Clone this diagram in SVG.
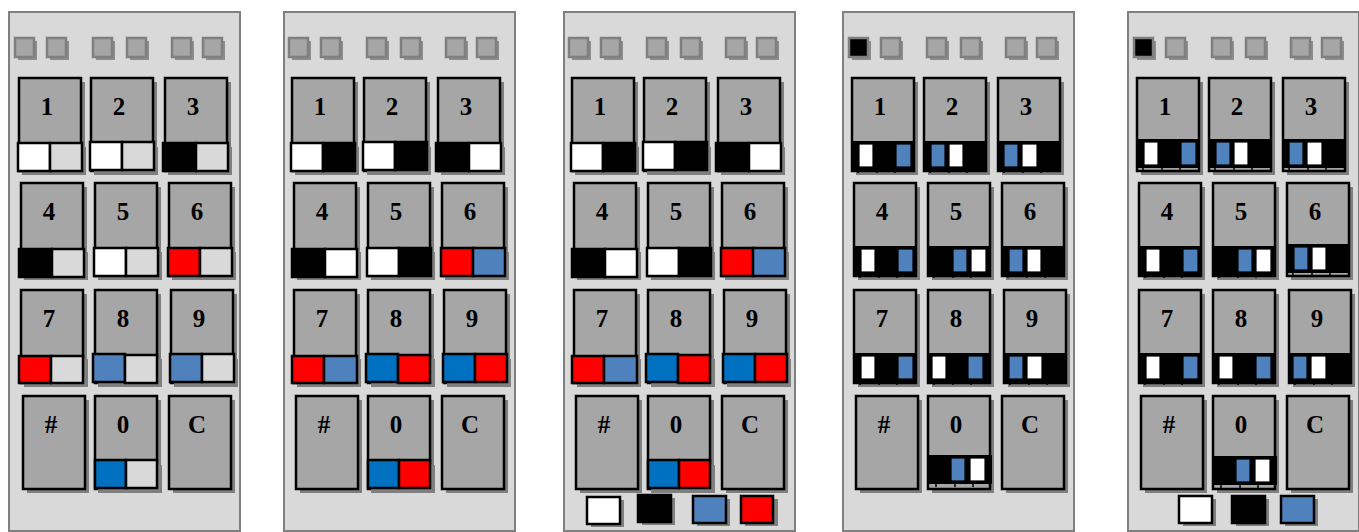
<svg xmlns="http://www.w3.org/2000/svg" xmlns:xlink="http://www.w3.org/1999/xlink" width="1359" height="532" viewBox="0 0 1359 532">
<style>
.panel{fill:#d9d9d9;stroke:#808080;stroke-width:2}
.sh{fill:#7f7f7f}
.lsh{fill:#8c8c8c}
.led{stroke:#7f7f7f;stroke-width:2.5}
.lbl{font-family:"Liberation Serif","Times New Roman",serif;font-weight:bold;font-size:25px;text-anchor:middle;fill:#000}
.c{stroke:#000;stroke-width:2.5}
.c3{stroke:#000;stroke-width:1.2}
.W{fill:#ffffff}.K{fill:#000000}.L{fill:#d9d9d9}.R{fill:#ff0000}.S{fill:#4f81bd}.B{fill:#0070c0}.G{fill:#a6a6a6}
</style>
<defs>
<g id="kb"><rect class="sh" x="4" y="4" width="62" height="93"/><rect x="0" y="0" width="62" height="93" fill="#a6a6a6" stroke="#000" stroke-width="2.5"/></g>
<rect id="b2s" class="sh" x="3" y="69" width="64" height="28"/>
<g id="b3"><rect x="0" y="64" width="61" height="27" fill="#000" stroke="#000" stroke-width="2"/><path d="M25 91v4M43 91v4M6 91v4" stroke="#000" stroke-width="1.5"/></g>
<g id="leds">
<rect class="lsh" x="9" y="41" width="19" height="19"/><rect class="lsh" x="41" y="41" width="19" height="19"/><rect class="lsh" x="87" y="41" width="19" height="19"/><rect class="lsh" x="121" y="41" width="19" height="19"/><rect class="lsh" x="166" y="41" width="19" height="19"/><rect class="lsh" x="197" y="41" width="19" height="19"/>
<rect class="led G" x="38" y="38" width="19" height="19"/><rect class="led G" x="84" y="38" width="19" height="19"/><rect class="led G" x="118" y="38" width="19" height="19"/><rect class="led G" x="163" y="38" width="19" height="19"/><rect class="led G" x="194" y="38" width="19" height="19"/>
</g>
</defs>

<!-- Panel 1 -->
<g id="panel1">
<rect class="panel" x="9" y="12" width="231" height="519"/>
<g transform="translate(9,0)"><use href="#leds"/><rect class="led G" x="6" y="38" width="19" height="19"/></g>
<g id="p1-k1" transform="translate(19,78)"><use href="#kb"/><text class="lbl" x="28" y="37">1</text><use href="#b2s"/><rect class="c W" x="-1" y="65" width="32" height="28"/><rect class="c L" x="31" y="65" width="32" height="28"/></g>
<g id="p1-k2" transform="translate(91,78)"><use href="#kb"/><text class="lbl" x="28" y="37">2</text><use href="#b2s"/><rect class="c W" x="-1" y="64" width="32" height="28"/><rect class="c L" x="31" y="64" width="32" height="28"/></g>
<g id="p1-k3" transform="translate(165,78)"><use href="#kb"/><text class="lbl" x="28" y="37">3</text><use href="#b2s"/><rect class="c K" x="-2" y="65" width="33" height="28"/><rect class="c L" x="31" y="65" width="32" height="28"/></g>
<g id="p1-k4" transform="translate(21,183)"><use href="#kb"/><text class="lbl" x="28" y="37">4</text><use href="#b2s"/><rect class="c K" x="-2" y="66" width="33" height="28"/><rect class="c L" x="31" y="66" width="32" height="28"/></g>
<g id="p1-k5" transform="translate(95,183)"><use href="#kb"/><text class="lbl" x="28" y="37">5</text><use href="#b2s"/><rect class="c W" x="-1" y="65" width="32" height="28"/><rect class="c L" x="31" y="65" width="32" height="28"/></g>
<g id="p1-k6" transform="translate(169,183)"><use href="#kb"/><text class="lbl" x="28" y="37">6</text><use href="#b2s"/><rect class="c R" x="-1" y="65" width="32" height="28"/><rect class="c L" x="31" y="65" width="32" height="28"/></g>
<g id="p1-k7" transform="translate(21,290)"><use href="#kb"/><text class="lbl" x="28" y="37">7</text><use href="#b2s"/><rect class="c R" x="-2" y="66" width="32" height="27"/><rect class="c L" x="30" y="66" width="32" height="27"/></g>
<g id="p1-k8" transform="translate(95,290)"><use href="#kb"/><text class="lbl" x="28" y="37">8</text><use href="#b2s"/><rect class="c S" x="-2" y="64" width="32" height="28"/><rect class="c L" x="30" y="65" width="32" height="28"/></g>
<g id="p1-k9" transform="translate(171,290)"><use href="#kb"/><text class="lbl" x="28" y="37">9</text><use href="#b2s"/><rect class="c S" x="-1" y="64" width="32" height="28"/><rect class="c L" x="31" y="64" width="32" height="28"/></g>
<g id="p1-kh" transform="translate(23,396)"><use href="#kb"/><text class="lbl" x="28" y="37">#</text></g>
<g id="p1-k0" transform="translate(95,396)"><use href="#kb"/><text class="lbl" x="28" y="37">0</text><use href="#b2s"/><rect class="c B" x="0" y="64" width="31" height="28"/><rect class="c L" x="31" y="64" width="31" height="28"/></g>
<g id="p1-kc" transform="translate(169,396)"><use href="#kb"/><text class="lbl" x="28" y="37">C</text></g>
</g>

<!-- Panel 2 -->
<g id="panel2">
<rect class="panel" x="284" y="12" width="231" height="519"/>
<g transform="translate(283,0)"><use href="#leds"/><rect class="led G" x="6" y="38" width="19" height="19"/></g>
<g id="p2-k1" transform="translate(292,78)"><use href="#kb"/><text class="lbl" x="28" y="37">1</text><use href="#b2s"/><rect class="c W" x="-1" y="65" width="32" height="28"/><rect class="c K" x="31" y="65" width="32" height="28"/></g>
<g id="p2-k2" transform="translate(364,78)"><use href="#kb"/><text class="lbl" x="28" y="37">2</text><use href="#b2s"/><rect class="c W" x="-1" y="64" width="32" height="28"/><rect class="c K" x="31" y="64" width="32" height="28"/></g>
<g id="p2-k3" transform="translate(438,78)"><use href="#kb"/><text class="lbl" x="28" y="37">3</text><use href="#b2s"/><rect class="c K" x="-2" y="65" width="33" height="28"/><rect class="c W" x="31" y="65" width="32" height="28"/></g>
<g id="p2-k4" transform="translate(294,183)"><use href="#kb"/><text class="lbl" x="28" y="37">4</text><use href="#b2s"/><rect class="c K" x="-2" y="66" width="33" height="28"/><rect class="c W" x="31" y="66" width="32" height="28"/></g>
<g id="p2-k5" transform="translate(368,183)"><use href="#kb"/><text class="lbl" x="28" y="37">5</text><use href="#b2s"/><rect class="c W" x="-1" y="65" width="32" height="28"/><rect class="c K" x="31" y="65" width="32" height="28"/></g>
<g id="p2-k6" transform="translate(442,183)"><use href="#kb"/><text class="lbl" x="28" y="37">6</text><use href="#b2s"/><rect class="c R" x="-1" y="65" width="32" height="28"/><rect class="c S" x="31" y="65" width="32" height="28"/></g>
<g id="p2-k7" transform="translate(294,290)"><use href="#kb"/><text class="lbl" x="28" y="37">7</text><use href="#b2s"/><rect class="c R" x="-2" y="66" width="32" height="27"/><rect class="c S" x="30" y="66" width="33" height="27"/></g>
<g id="p2-k8" transform="translate(368,290)"><use href="#kb"/><text class="lbl" x="28" y="37">8</text><use href="#b2s"/><rect class="c B" x="-2" y="64" width="32" height="28"/><rect class="c R" x="30" y="65" width="32" height="28"/></g>
<g id="p2-k9" transform="translate(444,290)"><use href="#kb"/><text class="lbl" x="28" y="37">9</text><use href="#b2s"/><rect class="c B" x="-1" y="64" width="32" height="28"/><rect class="c R" x="31" y="64" width="32" height="28"/></g>
<g id="p2-kh" transform="translate(296,396)"><use href="#kb"/><text class="lbl" x="28" y="37">#</text></g>
<g id="p2-k0" transform="translate(368,396)"><use href="#kb"/><text class="lbl" x="28" y="37">0</text><use href="#b2s"/><rect class="c B" x="0" y="64" width="31" height="28"/><rect class="c R" x="31" y="64" width="31" height="28"/></g>
<g id="p2-kc" transform="translate(442,396)"><use href="#kb"/><text class="lbl" x="28" y="37">C</text></g>
</g>

<!-- Panel 3 -->
<g id="panel3">
<rect class="panel" x="564" y="12" width="231" height="519"/>
<g transform="translate(563,0)"><use href="#leds"/><rect class="led G" x="6" y="38" width="19" height="19"/></g>
<g id="p3-k1" transform="translate(572,78)"><use href="#kb"/><text class="lbl" x="28" y="37">1</text><use href="#b2s"/><rect class="c W" x="-1" y="65" width="32" height="28"/><rect class="c K" x="31" y="65" width="32" height="28"/></g>
<g id="p3-k2" transform="translate(644,78)"><use href="#kb"/><text class="lbl" x="28" y="37">2</text><use href="#b2s"/><rect class="c W" x="-1" y="64" width="32" height="28"/><rect class="c K" x="31" y="64" width="32" height="28"/></g>
<g id="p3-k3" transform="translate(718,78)"><use href="#kb"/><text class="lbl" x="28" y="37">3</text><use href="#b2s"/><rect class="c K" x="-2" y="65" width="33" height="28"/><rect class="c W" x="31" y="65" width="32" height="28"/></g>
<g id="p3-k4" transform="translate(574,183)"><use href="#kb"/><text class="lbl" x="28" y="37">4</text><use href="#b2s"/><rect class="c K" x="-2" y="66" width="33" height="28"/><rect class="c W" x="31" y="66" width="32" height="28"/></g>
<g id="p3-k5" transform="translate(648,183)"><use href="#kb"/><text class="lbl" x="28" y="37">5</text><use href="#b2s"/><rect class="c W" x="-1" y="65" width="32" height="28"/><rect class="c K" x="31" y="65" width="32" height="28"/></g>
<g id="p3-k6" transform="translate(722,183)"><use href="#kb"/><text class="lbl" x="28" y="37">6</text><use href="#b2s"/><rect class="c R" x="-1" y="65" width="32" height="28"/><rect class="c S" x="31" y="65" width="32" height="28"/></g>
<g id="p3-k7" transform="translate(574,290)"><use href="#kb"/><text class="lbl" x="28" y="37">7</text><use href="#b2s"/><rect class="c R" x="-2" y="66" width="32" height="27"/><rect class="c S" x="30" y="66" width="33" height="27"/></g>
<g id="p3-k8" transform="translate(648,290)"><use href="#kb"/><text class="lbl" x="28" y="37">8</text><use href="#b2s"/><rect class="c B" x="-2" y="64" width="32" height="28"/><rect class="c R" x="30" y="65" width="32" height="28"/></g>
<g id="p3-k9" transform="translate(724,290)"><use href="#kb"/><text class="lbl" x="28" y="37">9</text><use href="#b2s"/><rect class="c B" x="-1" y="64" width="32" height="28"/><rect class="c R" x="31" y="64" width="32" height="28"/></g>
<g id="p3-kh" transform="translate(576,396)"><use href="#kb"/><text class="lbl" x="28" y="37">#</text></g>
<g id="p3-k0" transform="translate(648,396)"><use href="#kb"/><text class="lbl" x="28" y="37">0</text><use href="#b2s"/><rect class="c B" x="0" y="64" width="31" height="28"/><rect class="c R" x="31" y="64" width="31" height="28"/></g>
<g id="p3-kc" transform="translate(722,396)"><use href="#kb"/><text class="lbl" x="28" y="37">C</text></g>
<g id="p3-legend">
<rect class="sh" x="591" y="500" width="33" height="27"/><rect class="c W" x="587" y="497" width="33" height="27"/>
<rect class="sh" x="642" y="498" width="33" height="27"/><rect class="c K" x="638" y="495" width="33" height="27"/>
<rect class="sh" x="697" y="499" width="33" height="27"/><rect class="c S" x="693" y="496" width="33" height="27"/>
<rect class="sh" x="745" y="499" width="33" height="27"/><rect class="c R" x="741" y="496" width="32" height="27"/>
</g>
</g>

<!-- Panel 4 -->
<g id="panel4">
<rect class="panel" x="843" y="12" width="231" height="519"/>
<g transform="translate(843,0)"><use href="#leds"/><rect class="led K" x="6" y="38" width="19" height="19"/></g>
<g id="p4-k1" transform="translate(852,78)"><use href="#kb"/><text class="lbl" x="28" y="37">1</text><use href="#b3"/><rect class="c3 W" x="7" y="66" width="14" height="23"/><rect class="c3 S" x="44" y="66" width="15" height="23"/></g>
<g id="p4-k2" transform="translate(924,78)"><use href="#kb"/><text class="lbl" x="28" y="37">2</text><use href="#b3"/><rect class="c3 S" x="7" y="66" width="14" height="23"/><rect class="c3 W" x="25" y="66" width="14" height="23"/></g>
<g id="p4-k3" transform="translate(998,78)"><use href="#kb"/><text class="lbl" x="28" y="37">3</text><use href="#b3"/><rect class="c3 S" x="6" y="66" width="14" height="23"/><rect class="c3 W" x="24" y="66" width="15" height="23"/></g>
<g id="p4-k4" transform="translate(854,183)"><use href="#kb"/><text class="lbl" x="28" y="37">4</text><use href="#b3"/><rect class="c3 W" x="7" y="66" width="14" height="23"/><rect class="c3 S" x="44" y="66" width="15" height="23"/></g>
<g id="p4-k5" transform="translate(928,183)"><use href="#kb"/><text class="lbl" x="28" y="37">5</text><use href="#b3"/><rect class="c3 S" x="25" y="66" width="14" height="23"/><rect class="c3 W" x="43" y="66" width="15" height="23"/></g>
<g id="p4-k6" transform="translate(1002,183)"><use href="#kb"/><text class="lbl" x="28" y="37">6</text><use href="#b3"/><rect class="c3 S" x="7" y="66" width="14" height="23"/><rect class="c3 W" x="25" y="66" width="14" height="23"/></g>
<g id="p4-k7" transform="translate(854,290)"><use href="#kb"/><text class="lbl" x="28" y="37">7</text><use href="#b3"/><rect class="c3 W" x="7" y="66" width="14" height="23"/><rect class="c3 S" x="44" y="66" width="15" height="23"/></g>
<g id="p4-k8" transform="translate(928,290)"><use href="#kb"/><text class="lbl" x="28" y="37">8</text><use href="#b3"/><rect class="c3 W" x="4" y="66" width="14" height="23"/><rect class="c3 S" x="40" y="66" width="15" height="23"/></g>
<g id="p4-k9" transform="translate(1004,290)"><use href="#kb"/><text class="lbl" x="28" y="37">9</text><use href="#b3"/><rect class="c3 S" x="5" y="66" width="14" height="23"/><rect class="c3 W" x="23" y="66" width="15" height="23"/></g>
<g id="p4-kh" transform="translate(856,396)"><use href="#kb"/><text class="lbl" x="28" y="37">#</text></g>
<g id="p4-k0" transform="translate(928,396)"><use href="#kb"/><text class="lbl" x="28" y="37">0</text><g transform="translate(2,-4)"><use href="#b3"/><rect class="c3 S" x="21" y="66" width="14" height="23"/><rect class="c3 W" x="40" y="66" width="15" height="23"/></g></g>
<g id="p4-kc" transform="translate(1002,396)"><use href="#kb"/><text class="lbl" x="28" y="37">C</text></g>
</g>

<!-- Panel 5 -->
<g id="panel5">
<rect class="panel" x="1128" y="12" width="231" height="519"/>
<g transform="translate(1128,0)"><use href="#leds"/><rect class="led K" x="6" y="38" width="19" height="19"/></g>
<g id="p5-k1" transform="translate(1137,78)"><use href="#kb"/><text class="lbl" x="28" y="37">1</text><g transform="translate(0,-2)"><use href="#b3"/><rect class="c3 W" x="7" y="66" width="14" height="23"/><rect class="c3 S" x="44" y="66" width="15" height="23"/></g></g>
<g id="p5-k2" transform="translate(1209,78)"><use href="#kb"/><text class="lbl" x="28" y="37">2</text><g transform="translate(0,-2)"><use href="#b3"/><rect class="c3 S" x="7" y="66" width="14" height="23"/><rect class="c3 W" x="25" y="66" width="14" height="23"/></g></g>
<g id="p5-k3" transform="translate(1283,78)"><use href="#kb"/><text class="lbl" x="28" y="37">3</text><g transform="translate(0,-2)"><use href="#b3"/><rect class="c3 S" x="6" y="66" width="14" height="23"/><rect class="c3 W" x="24" y="66" width="15" height="23"/></g></g>
<g id="p5-k4" transform="translate(1139,183)"><use href="#kb"/><text class="lbl" x="28" y="37">4</text><use href="#b3"/><rect class="c3 W" x="7" y="66" width="14" height="23"/><rect class="c3 S" x="44" y="66" width="15" height="23"/></g>
<g id="p5-k5" transform="translate(1213,183)"><use href="#kb"/><text class="lbl" x="28" y="37">5</text><use href="#b3"/><rect class="c3 S" x="25" y="66" width="14" height="23"/><rect class="c3 W" x="43" y="66" width="15" height="23"/></g>
<g id="p5-k6" transform="translate(1287,183)"><use href="#kb"/><text class="lbl" x="28" y="37">6</text><g transform="translate(0,-2)"><use href="#b3"/><rect class="c3 S" x="7" y="66" width="14" height="23"/><rect class="c3 W" x="25" y="66" width="14" height="23"/></g></g>
<g id="p5-k7" transform="translate(1139,290)"><use href="#kb"/><text class="lbl" x="28" y="37">7</text><use href="#b3"/><rect class="c3 W" x="7" y="66" width="14" height="23"/><rect class="c3 S" x="44" y="66" width="15" height="23"/></g>
<g id="p5-k8" transform="translate(1213,290)"><use href="#kb"/><text class="lbl" x="28" y="37">8</text><use href="#b3"/><rect class="c3 W" x="6" y="66" width="14" height="23"/><rect class="c3 S" x="43" y="66" width="15" height="23"/></g>
<g id="p5-k9" transform="translate(1289,290)"><use href="#kb"/><text class="lbl" x="28" y="37">9</text><use href="#b3"/><rect class="c3 S" x="4" y="66" width="14" height="23"/><rect class="c3 W" x="22" y="66" width="15" height="23"/></g>
<g id="p5-kh" transform="translate(1141,396)"><use href="#kb"/><text class="lbl" x="28" y="37">#</text></g>
<g id="p5-k0" transform="translate(1213,396)"><use href="#kb"/><text class="lbl" x="28" y="37">0</text><g transform="translate(2,-3)"><use href="#b3"/><rect class="c3 S" x="21" y="66" width="14" height="23"/><rect class="c3 W" x="40" y="66" width="15" height="23"/></g></g>
<g id="p5-kc" transform="translate(1287,396)"><use href="#kb"/><text class="lbl" x="28" y="37">C</text></g>
<g id="p5-legend">
<rect class="sh" x="1183" y="499" width="33" height="27"/><rect class="c W" x="1179" y="496" width="33" height="27"/>
<rect class="sh" x="1236" y="499" width="33" height="27"/><rect class="c K" x="1232" y="496" width="33" height="27"/>
<rect class="sh" x="1285" y="499" width="33" height="27"/><rect class="c S" x="1281" y="496" width="33" height="27"/>
</g>
</g>

<g id="connectors"/>
</svg>
